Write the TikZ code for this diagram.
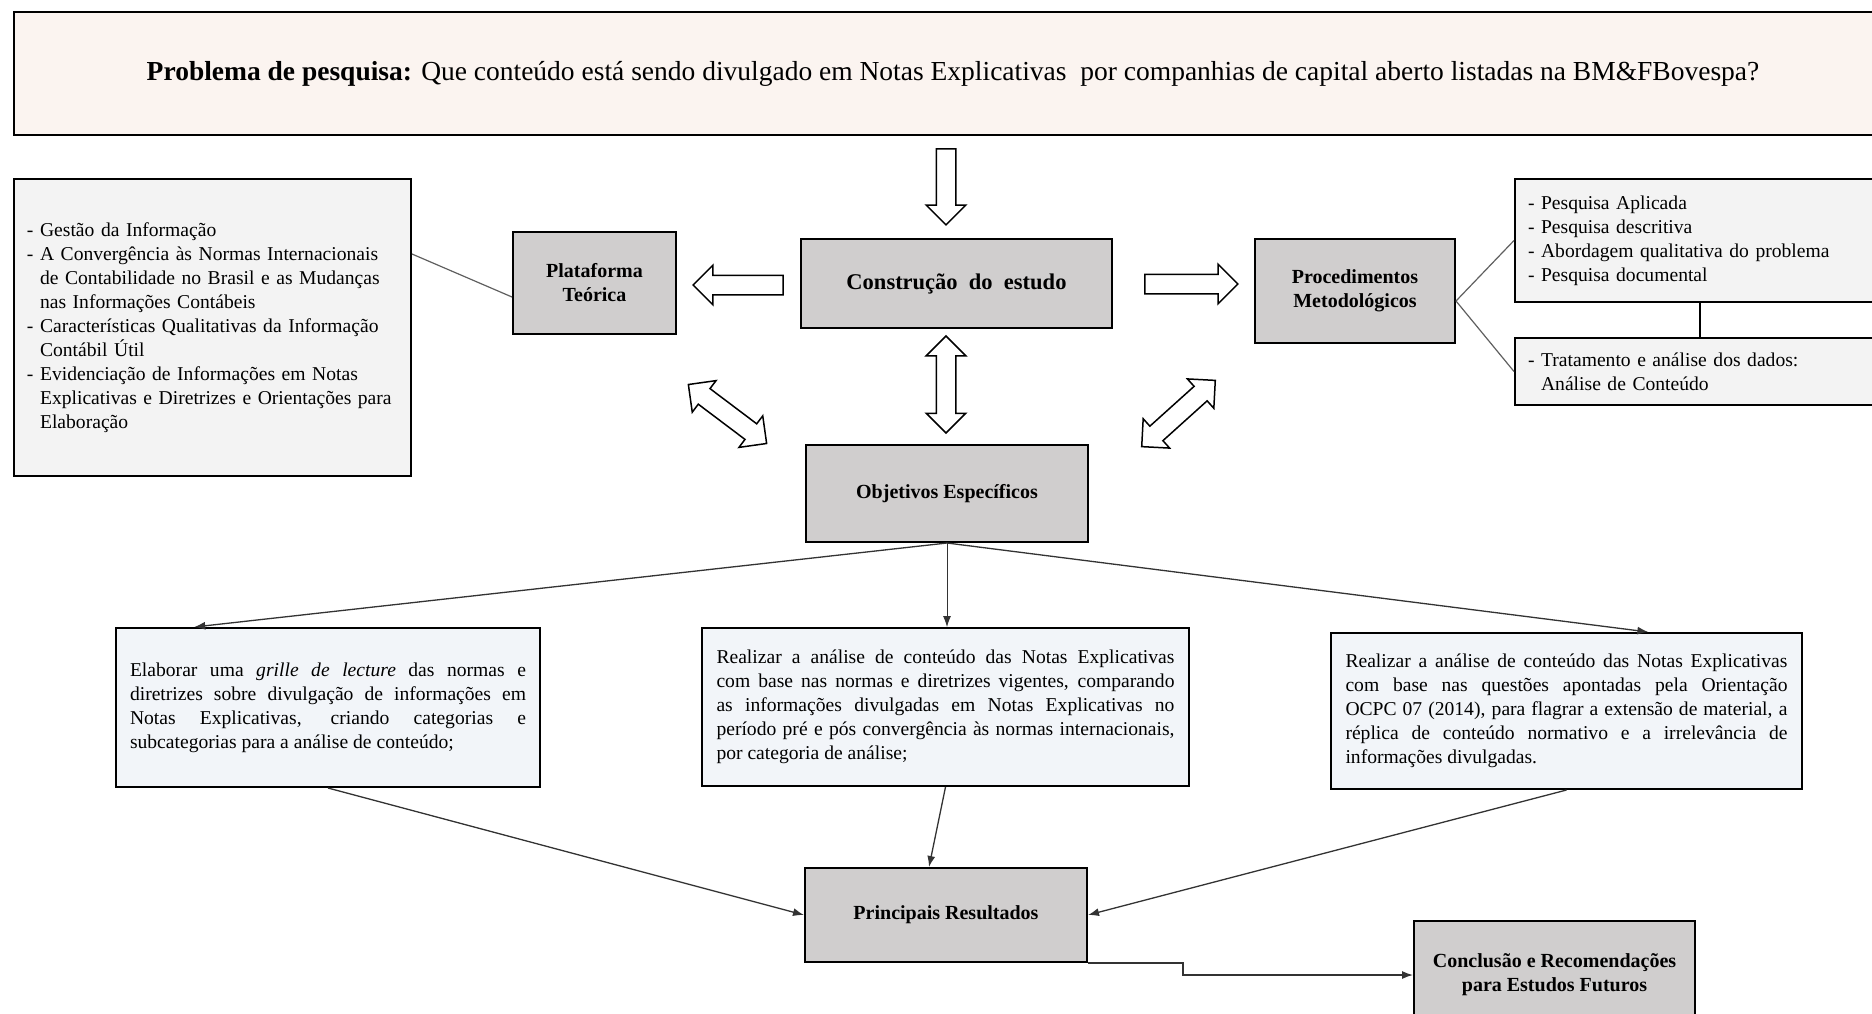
\documentclass[tikz,border=0pt]{standalone}
\usepackage{fontspec}
\setmainfont{Liberation Serif}
\usetikzlibrary{shapes.arrows, arrows.meta, positioning, calc}
\definecolor{probfill}{RGB}{251,244,240}
\definecolor{listfill}{RGB}{243,243,243}
\definecolor{headgray}{RGB}{208,206,206}
\definecolor{goalfill}{RGB}{242,245,249}
\definecolor{linkgray}{RGB}{95,95,95}
\setlength{\parindent}{0pt}
\newcommand{\dashpad}{\hphantom{- }}

\begin{document}
\begin{tikzpicture}[
  x=1pt, y=-1pt,
  font=\fontsize{19.6}{24}\selectfont,
  problem/.style={rectangle, draw=black, line width=2pt, fill=probfill,
    minimum width=1878, minimum height=123},
  listbox/.style={rectangle, draw=black, line width=2pt, fill=listfill,
    align=left, inner xsep=13pt},
  headbox/.style={rectangle, draw=black, line width=2pt, fill=headgray,
    align=center, font=\fontsize{20}{24}\selectfont\bfseries},
  goalbox/.style={rectangle, draw=black, line width=2pt, fill=goalfill,
    align=justify, inner xsep=14pt},
  bigarrow/.style={single arrow, draw=black, line width=1.5pt, fill=white,
    inner sep=9pt, minimum width=38, single arrow head extend=10pt},
  twinarrow/.style={double arrow, draw=black, line width=1.5pt, fill=white,
    inner sep=9pt, minimum width=38, double arrow head extend=10pt},
  link/.style={draw=linkgray, line width=1.2pt},
  arrow/.style={-{Latex[length=11pt, width=8pt]}, line width=1.3pt, black!80}
]
\useasboundingbox (0,0) rectangle (1872,1013);

% Research problem
\node[problem] (prob) at (953,73.5) {\fontsize{27.5}{32}\selectfont\textbf{Problema de pesquisa:} Que conteúdo está sendo divulgado em Notas Explicativas\ \ por companhias de capital aberto listadas na BM\&FBovespa?};

% Central column
\node[headbox, minimum width=311, minimum height=89,
  font=\fontsize{22.5}{27}\selectfont\bfseries] (build) at (956.5,283.5) {Construção\ \ do\ \ estudo};
\node[headbox, minimum width=282, minimum height=97] (goals) at (947,493.5) {Objetivos Específicos};
\node[headbox, minimum width=282, minimum height=94] (results) at (946,915) {Principais Resultados};
\node[headbox, minimum width=281, minimum height=108] (final) at (1554.5,975) {Conclusão e Recomendações\\para Estudos Futuros};

% Theory side
\node[headbox, minimum width=163, minimum height=102] (theory) at (594.5,283) {Plataforma\\Teórica};
\node[listbox, minimum width=397, minimum height=297, text width=371] (theorylist) at (212.5,327.5) {- Gestão da Informação\\
- A Convergência às Normas Internacionais\\
\dashpad de Contabilidade no Brasil e as Mudanças\\
\dashpad nas Informações Contábeis\\
- Características Qualitativas da Informação\\
\dashpad Contábil Útil\\
- Evidenciação de Informações em Notas\\
\dashpad Explicativas e Diretrizes e Orientações para\\
\dashpad Elaboração};

% Method side
\node[headbox, minimum width=200, minimum height=104] (method) at (1355,291) {Procedimentos\\Metodológicos};
\node[listbox, minimum width=370, minimum height=123, text width=344] (methodlist) at (1700,240.5) {- Pesquisa Aplicada\\
- Pesquisa descritiva\\
- Abordagem qualitativa do problema\\
- Pesquisa documental};
\node[listbox, minimum width=370, minimum height=67, text width=344] (analysis) at (1700,371.5) {- Tratamento e análise dos dados:\\
\dashpad Análise de Conteúdo};

% Specific goals
\node[goalbox, minimum width=424, minimum height=159, text width=396] (goal1) at (328,707.5) {%
Elaborar uma \textit{grille de lecture} das normas e\linebreak
diretrizes sobre divulgação de informações em\linebreak
Notas Explicativas, criando categorias e\linebreak
subcategorias para a análise de conteúdo;};
\node[goalbox, minimum width=487, minimum height=158, text width=458] (goal2) at (945.5,707) {%
Realizar a análise de conteúdo das Notas Explicativas\linebreak
com base nas normas e diretrizes vigentes, comparando\linebreak
as informações divulgadas em Notas Explicativas no\linebreak
período pré e pós convergência às normas internacionais,\linebreak
por categoria de análise;};
\node[goalbox, minimum width=471, minimum height=156, text width=442] (goal3) at (1566.5,711) {%
Realizar a análise de conteúdo das Notas Explicativas\linebreak
com base nas questões apontadas pela Orientação\linebreak
OCPC 07 (2014), para flagrar a extensão de material, a\linebreak
réplica de conteúdo normativo e a irrelevância de\linebreak
informações divulgadas.};

% Block arrows
\node[bigarrow, rotate=-90, minimum height=76] (downarr) at (946,182) {};
\node[bigarrow, rotate=180, minimum height=90] (leftarr) at (743,285) {};
\node[bigarrow, minimum height=93] (rightarr) at (1186.5,284) {};
\node[twinarrow, rotate=90, minimum height=97] (midarr) at (946,384.5) {};
\node[twinarrow, rotate=-37, minimum height=98] (diagleft) at (727.5,414) {};
\node[twinarrow, rotate=42, minimum height=99] (diagright) at (1178.5,413.5) {};

% Links
\draw[link] ([yshift=73.5]theorylist.east) -- ([yshift=-14]theory.west);
\draw[link] ([yshift=-10]method.east) -- (methodlist.west);
\draw[link] ([yshift=-10]method.east) -- (analysis.west);
\draw[line width=1.2pt] (methodlist.south) -- (analysis.north);

% Arrows
\draw[arrow] (goals.south) -- ($(goal1.north west)!0.186!(goal1.north east)$);
\draw[arrow, line width=0.8pt] (goals.south) -- (goals.south |- goal2.north);
\draw[arrow] (goals.south) -- ($(goal3.north west)!0.673!(goal3.north east)$);
\draw[arrow] (goal1.south) -- (results.west);
\draw[arrow] (goal2.south) -- ([xshift=-17]results.north);
\draw[arrow] (goal3.south) -- (results.east);
\draw[arrow] (results.south east) -- ++(95,0) |- (final.west);
\end{tikzpicture}
\end{document}
